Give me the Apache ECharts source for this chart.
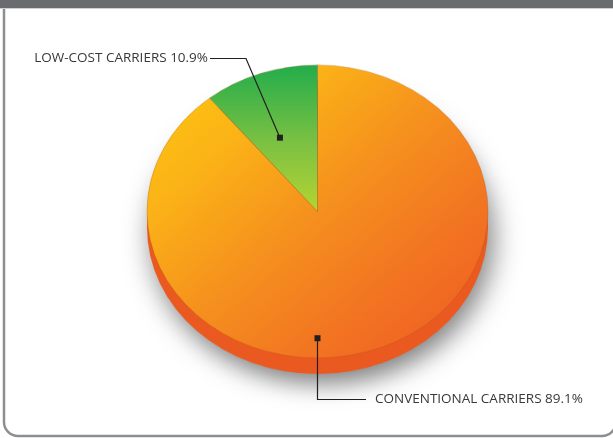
<!DOCTYPE html>
<html>
<head>
<meta charset="utf-8">
<script src="https://cdn.jsdelivr.net/npm/echarts@6/dist/echarts.min.js"></script>
<style>
  html, body { margin: 0; padding: 0; background: #ffffff; }
  #stage { position: relative; width: 613px; height: 438px; overflow: hidden; }
  #pie { position: absolute; left: 0; top: 0; width: 613px; transform-origin: 0 0; }
  #overlay { position: absolute; left: 0; top: 0; width: 613px; height: 438px; pointer-events: none; }
</style>
</head>
<body>
<div id="stage">
  <div id="pie"></div>
  <div id="overlay"></div>
</div>
<script>
// Market share by carrier type
const categories = ['CONVENTIONAL CARRIERS', 'LOW-COST CARRIERS'];
const shares = [89.1, 10.9];

// Tilted-disc geometry (pixels on the page)
const CX = 317.5, CY = 211.5;   // centre of the top face
const RX = 170.5, RY = 146.5;   // horizontal / vertical radii of the top face
const DEPTH = 16;               // thickness of the disc
const SQUASH = RY / RX;

const pieEl = document.getElementById('pie');
pieEl.style.height = (438 / SQUASH) + 'px';
pieEl.style.transform = 'scaleY(' + SQUASH + ')';

const faceColors = [
  { type: 'linear', x: 0, y: 0, x2: 1, y2: 1, colorStops: [
    { offset: 0, color: '#ffca0e' },
    { offset: 0.25, color: '#fbb317' },
    { offset: 0.5, color: '#f5901e' },
    { offset: 0.75, color: '#f27222' },
    { offset: 1, color: '#ee5a24' }
  ] },
  { type: 'linear', x: 0, y: 0, x2: 0, y2: 1, colorStops: [
    { offset: 0, color: '#22ad4b' },
    { offset: 0.5, color: '#77c043' },
    { offset: 1, color: '#b7d433' }
  ] }
];
const sideColor = '#ea5a20';

const pieData = categories.map((name, i) => ({ name: name, value: shares[i] }));

const pieChart = echarts.init(pieEl, null, { renderer: 'canvas' });
pieChart.setOption({
  animation: false,
  series: [
    {
      // side wall of the disc
      type: 'pie',
      silent: true,
      center: [CX, (CY + DEPTH) / SQUASH],
      radius: RX,
      startAngle: 90,
      clockwise: true,
      label: { show: false },
      labelLine: { show: false },
      itemStyle: {
        color: sideColor,
        shadowBlur: 28,
        shadowColor: 'rgba(0,0,0,0.5)',
        shadowOffsetX: 5,
        shadowOffsetY: 12
      },
      data: pieData.map(d => ({ name: d.name, value: d.value }))
    },
    {
      // top face
      type: 'pie',
      silent: true,
      center: [CX, CY / SQUASH],
      radius: RX,
      startAngle: 90,
      clockwise: true,
      label: { show: false },
      labelLine: { show: false },
      itemStyle: { borderWidth: 0.6, borderColor: 'rgba(160,70,20,0.45)' },
      data: pieData.map((d, i) => ({ name: d.name, value: d.value, itemStyle: { color: faceColors[i] } }))
    }
  ]
});

// Annotation layout: anchor angle (degrees clockwise from 12 o'clock), radius fraction
const total = shares.reduce((a, b) => a + b, 0);
function pointOnFace(angleDeg, frac) {
  const a = angleDeg * Math.PI / 180;
  return [CX + RX * frac * Math.sin(a), CY - RY * frac * Math.cos(a)];
}
const lowMid = 360 - (shares[1] / total) * 360 / 2;  // middle of the low-cost slice
const lowAnchor = pointOnFace(lowMid - 4, 0.55);
const convAnchor = pointOnFace(180, 0.865);

const ink = '#231f20';
const textFont = '13.5px "Open Sans", sans-serif';
const lowText = categories[1] + ' ' + shares[1] + '%';
const convText = categories[0] + ' ' + shares[0] + '%';

const overlay = echarts.init(document.getElementById('overlay'), null, { renderer: 'canvas' });
overlay.setOption({
  animation: false,
  graphic: [
    // frame
    { type: 'rect', silent: true, shape: { x: 4, y: -20, width: 612, height: 456, r: 14 },
      style: { fill: null, stroke: '#8d8e91', lineWidth: 2.5 } },
    { type: 'rect', silent: true, shape: { x: 0, y: 0, width: 613, height: 8 },
      style: { fill: '#6a6b6f' } },
    { type: 'rect', silent: true, shape: { x: 0, y: 8, width: 613, height: 1 },
      style: { fill: '#cfcfd1' } },

    // low-cost leader
    { type: 'polyline', silent: true,
      shape: { points: [[210, 58.5], [246, 58.5], lowAnchor] },
      style: { stroke: ink, lineWidth: 1.2, fill: null } },
    { type: 'rect', silent: true,
      shape: { x: lowAnchor[0] - 3, y: lowAnchor[1] - 3, width: 6, height: 6 },
      style: { fill: ink } },
    { type: 'text', silent: true, x: 208, y: 58.5,
      style: { text: lowText, font: textFont, fill: '#38383a', align: 'right', verticalAlign: 'middle' } },

    // conventional leader
    { type: 'polyline', silent: true,
      shape: { points: [convAnchor, [convAnchor[0], 399.5], [366, 399.5]] },
      style: { stroke: ink, lineWidth: 1.2, fill: null } },
    { type: 'rect', silent: true,
      shape: { x: convAnchor[0] - 3, y: convAnchor[1] - 3, width: 6, height: 6 },
      style: { fill: ink } },
    { type: 'text', silent: true, x: 375, y: 399.5,
      style: { text: convText, font: textFont, fill: '#38383a', align: 'left', verticalAlign: 'middle' } }
  ]
});
</script>
</body>
</html>
